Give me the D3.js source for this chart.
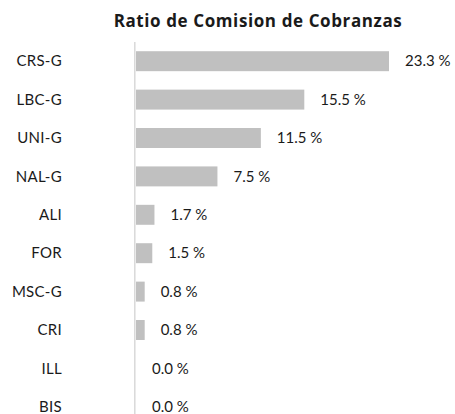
<!DOCTYPE html>
<html>
<head>
<meta charset="utf-8">
<script src="https://cdn.jsdelivr.net/npm/d3@7"></script>
<style>
  body { margin: 0; background: #fff; }
  svg text { font-family: Lato, "Noto Sans", sans-serif; fill: #1a1a1a; }
</style>
</head>
<body>
<svg id="chart"></svg>
<script>
const categories = ["CRS-G", "LBC-G", "UNI-G", "NAL-G", "ALI", "FOR", "MSC-G", "CRI", "ILL", "BIS"];
const values = [23.3, 15.5, 11.5, 7.5, 1.7, 1.5, 0.8, 0.8, 0.0, 0.0];
const title = "Ratio de Comision de Cobranzas";

const width = 455, height = 414;
const margin = {top: 42, left: 136, right: 66};

const data = categories.map((c, i) => ({name: c, value: values[i]}));

const svg = d3.select("#chart")
    .attr("width", width)
    .attr("height", height);

const x = d3.scaleLinear()
    .domain([0, d3.max(values)])
    .range([margin.left, width - margin.right]);

const y = d3.scaleBand()
    .domain(categories)
    .range([margin.top, 426])
    .paddingInner(0.48)
    .paddingOuter(0.24);

svg.append("text")
    .attr("x", 258)
    .attr("y", 26.5)
    .attr("text-anchor", "middle")
    .style("font-family", "'Open Sans', sans-serif")
    .style("font-size", "17px")
    .style("letter-spacing", "0.6px")
    .style("font-weight", "bold")
    .text(title);

// category labels
svg.append("g")
  .selectAll("text")
  .data(data)
  .join("text")
    .attr("x", 62)
    .attr("y", d => y(d.name) + y.bandwidth() / 2)
    .attr("dy", "0.35em")
    .attr("text-anchor", "end")
    .style("font-size", "15px")
    .style("letter-spacing", "0.3px")
    .text(d => d.name);

svg.append("g")
  .selectAll("rect")
  .data(data)
  .join("rect")
    .attr("x", x(0))
    .attr("y", d => y(d.name))
    .attr("width", d => x(d.value) - x(0))
    .attr("height", y.bandwidth())
    .attr("fill", "#c0c0c0");

// axis line
svg.append("line")
    .attr("x1", x(0) - 1.2)
    .attr("x2", x(0) - 1.2)
    .attr("y1", margin.top)
    .attr("y2", height)
    .attr("stroke", "#d9d9d9")
    .attr("stroke-width", 1.5);

svg.append("g")
  .selectAll("text")
  .data(data)
  .join("text")
    .attr("x", d => x(d.value) + 16)
    .attr("y", d => y(d.name) + y.bandwidth() / 2)
    .attr("dy", "0.35em")
    .style("font-size", "15px")
    .text(d => d.value.toFixed(1) + " %");
</script>
</body>
</html>
